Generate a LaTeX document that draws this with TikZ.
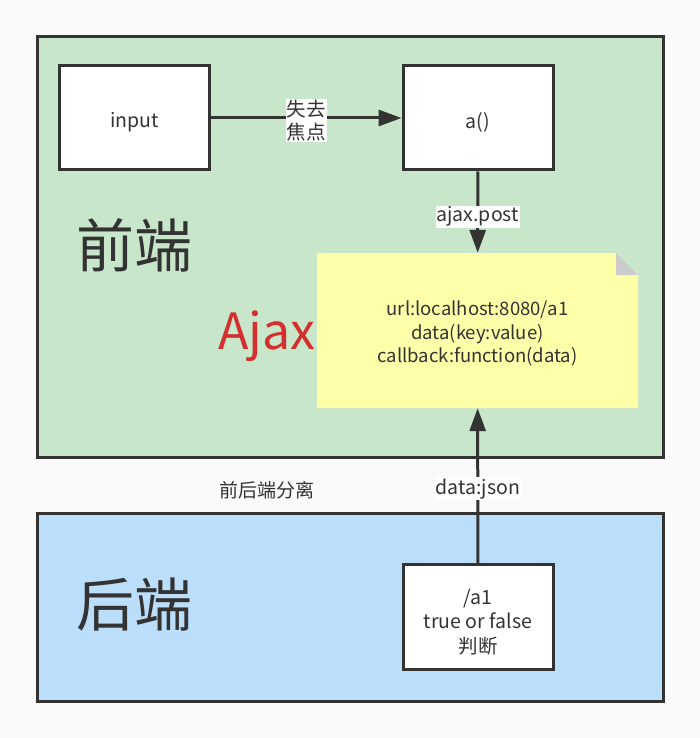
\documentclass[tikz,border=0pt]{standalone}
\usepackage{fontspec}
\setmainfont{Noto Sans CJK SC}
\usetikzlibrary{arrows.meta}
\definecolor{bgc}{HTML}{FAFAFA}
\definecolor{greenf}{HTML}{C8E6C9}
\definecolor{bluef}{HTML}{BBDEFB}
\definecolor{notef}{HTML}{FFFFA9}
\definecolor{foldc}{HTML}{CCCCCC}
\definecolor{ink}{HTML}{333333}
\definecolor{ajaxred}{HTML}{D32F2F}
\tikzset{
  zone/.style={draw=ink, line width=3pt},
  wbox/.style={draw=ink, line width=3pt, fill=white, minimum width=150pt, minimum height=104pt},
  boxtxt/.style={text=ink, align=center, yshift=-4pt, font=\fontsize{19.5}{24.5}\selectfont},
  arr/.style={draw=ink, line width=3pt, -{Triangle[length=23pt,width=16pt]}},
  elabel/.style={fill=white, inner sep=1pt, text=ink, align=center, yshift=-3pt, font=\fontsize{19.5}{23}\selectfont},
  bigtxt/.style={text=ink, font=\fontsize{58}{60}\selectfont},
}
\begin{document}
\begin{tikzpicture}[x=1pt,y=-1pt]
\fill[bgc] (0,0) rectangle (700,738);
\useasboundingbox (0,0) rectangle (700,738);
% zones
\draw[zone, fill=greenf] (37,37) rectangle (663,457);
\draw[zone, fill=bluef] (37,513) rectangle (663,701);
% note shape
\fill[notef] (317,253) -- (616,253) -- (638,275) -- (638,408) -- (317,408) -- cycle;
\fill[foldc] (616,253) -- (638,275) -- (616,275) -- cycle;
\node[minimum width=321pt, minimum height=155pt, inner sep=0pt,
  label={[boxtxt, yshift=1pt, font=\fontsize{18.5}{23.5}\selectfont]center:url:localhost:8080/a1\\data(key:value)\\callback:function(data)}] (note) at (477.5,330.5) {};
% boxes
\node[wbox, label={[boxtxt]center:input}] (input) at (134.5,118) {};
\node[wbox, label={[boxtxt]center:a()}] (a) at (478,118) {};
\node[wbox, minimum height=105pt, label={[boxtxt, yshift=-1pt]center:/a1\\true or false\\判断}] (a1) at (478,617) {};
% big labels
\node[bigtxt] (fe) at (134,245) {前端};
\node[bigtxt] (be) at (134,605) {后端};
\node[text=ajaxred, font=\fontsize{50}{52}\selectfont] (ajax) at (267,336) {Ajax};
\node[text=ink, font=\fontsize{19}{22}\selectfont] (sep) at (267,490) {前后端分离};
% connectors
\draw[arr] (input) -- node[elabel] {失去\\焦点} (a);
\draw[arr] (a) -- node[elabel, pos=0.53, yshift=1pt] {ajax.post} (note);
\draw[arr] (a1) -- node[elabel, pos=0.5] {data:json} (note);
\end{tikzpicture}
\end{document}
